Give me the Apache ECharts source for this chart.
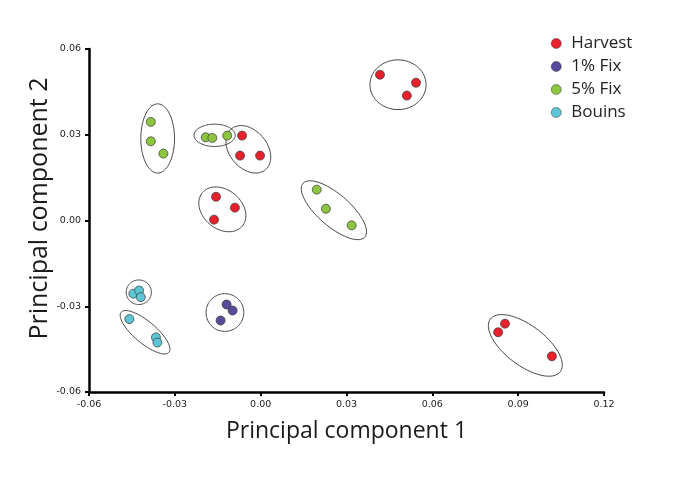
<!DOCTYPE html>
<html>
<head>
<meta charset="utf-8">
<script src="https://cdn.jsdelivr.net/npm/echarts@6/dist/echarts.min.js"></script>
<style>
  html, body { margin: 0; padding: 0; background: #fff; }
  #chart { width: 685px; height: 478px; }
</style>
</head>
<body>
<div id="chart"></div>
<script>
// PCA scores, [PC1, PC2]
const harvest = [
  [0.0417, 0.0510], [0.0543, 0.0482], [0.0511, 0.0437],
  [-0.0065, 0.0297], [-0.0072, 0.0227], [-0.0002, 0.0227],
  [-0.0156, 0.0083], [-0.0090, 0.0045], [-0.0163, 0.0003],
  [0.0854, -0.0361], [0.0830, -0.0391], [0.1018, -0.0475]
]
const fix1 = [[-0.0119, -0.0294], [-0.0098, -0.0315], [-0.0140, -0.0350]]
const fix5 = [
  [-0.0384, 0.0345], [-0.0384, 0.0277], [-0.0340, 0.0234],
  [-0.0192, 0.0291], [-0.0169, 0.0289], [-0.0117, 0.0297],
  [0.0196, 0.0108], [0.0228, 0.0041], [0.0318, -0.0017]
]
const bouins = [
  [-0.0445, -0.0256], [-0.0425, -0.0245], [-0.0419, -0.0268],
  [-0.0459, -0.0345], [-0.0366, -0.0409], [-0.0361, -0.0427]
]
// group outlines: [centre x, centre y, semi-axis a, semi-axis b, angle deg]
const groups = [
  [-0.0360, 0.0287, 0.0121, 0.0059, 90],
  [-0.0161, 0.0298, 0.0072, 0.0039, 0],
  [-0.0043, 0.0249, 0.0093, 0.0066, -50],
  [-0.0134, 0.0039, 0.0091, 0.0068, -40],
  [0.0256, 0.0036, 0.0143, 0.0056, -41],
  [0.0480, 0.0475, 0.0098, 0.0087, 0],
  [-0.0426, -0.0251, 0.0044, 0.0043, 0],
  [-0.0404, -0.0391, 0.0109, 0.0038, -40],
  [-0.0125, -0.0322, 0.0066, 0.0066, 0],
  [0.0925, -0.0437, 0.0153, 0.0070, -37]
]

const chart = echarts.init(document.getElementById('chart'))

const dot = (name, color, data) => ({
  name: name,
  type: 'scatter',
  data: data,
  symbolSize: 9,
  z: 3,
  itemStyle: { color: color, borderColor: '#333', borderWidth: 0.7, opacity: 1 },
  emphasis: { disabled: true }
})

function drawEllipse (params, api) {
  const c = api.coord([api.value(0), api.value(1)])
  const k = api.size([1, 1])
  const rx = api.value(2) * k[0]
  const ry = api.value(3) * k[1]
  const t = api.value(4) * Math.PI / 180
  const pts = []
  for (let i = 0; i < 90; i++) {
    const s = i / 90 * Math.PI * 2
    const ex = rx * Math.cos(s)
    const ey = ry * Math.sin(s)
    pts.push([
      c[0] + ex * Math.cos(t) - ey * Math.sin(t),
      c[1] - (ex * Math.sin(t) + ey * Math.cos(t))
    ])
  }
  return {
    type: 'polygon',
    shape: { points: pts },
    style: { fill: 'none', stroke: '#444', lineWidth: 1 }
  }
}

const axisLine = { onZero: false, lineStyle: { color: '#000', width: 2.5 } }
const tick = { show: true, length: 4, lineStyle: { color: '#000', width: 2 } }
const label = {
  fontSize: 9.5,
  color: '#222',
  fontFamily: 'DejaVu Sans',
  formatter: v => v.toFixed(2)
}

chart.setOption({
  animation: false,
  grid: { left: 89, right: 81, top: 49, bottom: 86 },
  legend: {
    orient: 'vertical',
    left: 546,
    top: 30,
    icon: 'circle',
    itemWidth: 10,
    itemHeight: 10,
    itemGap: 6,
    itemStyle: { borderWidth: 0.5 },
    textStyle: { fontSize: 17, color: '#222', fontFamily: 'Open Sans', padding: [0, 0, 0, 5] },
    data: ['Harvest', '1% Fix', '5% Fix', 'Bouins']
  },
  xAxis: {
    type: 'value',
    min: -0.06,
    max: 0.12,
    interval: 0.03,
    name: 'Principal component 1',
    nameLocation: 'middle',
    nameGap: 28,
    nameTextStyle: { fontSize: 23, color: '#1a1a1a', fontFamily: 'Open Sans' },
    axisLine: axisLine,
    axisTick: tick,
    axisLabel: label,
    splitLine: { show: false }
  },
  yAxis: {
    type: 'value',
    min: -0.06,
    max: 0.06,
    interval: 0.03,
    name: 'Principal component 2',
    nameLocation: 'middle',
    nameMoveOverlap: false,
    nameGap: 37,
    nameTextStyle: { fontSize: 25, color: '#1a1a1a', fontFamily: 'Open Sans', padding: [0, 0, 0, 24] },
    axisLine: axisLine,
    axisTick: tick,
    axisLabel: label,
    splitLine: { show: false }
  },
  series: [
    {
      type: 'custom',
      renderItem: drawEllipse,
      data: groups,
      z: 1,
      silent: true
    },
    dot('Harvest', '#e8212b', harvest),
    dot('1% Fix', '#5a4a9c', fix1),
    dot('5% Fix', '#8cc63f', fix5),
    dot('Bouins', '#5cc6d6', bouins)
  ]
})
</script>
</body>
</html>
